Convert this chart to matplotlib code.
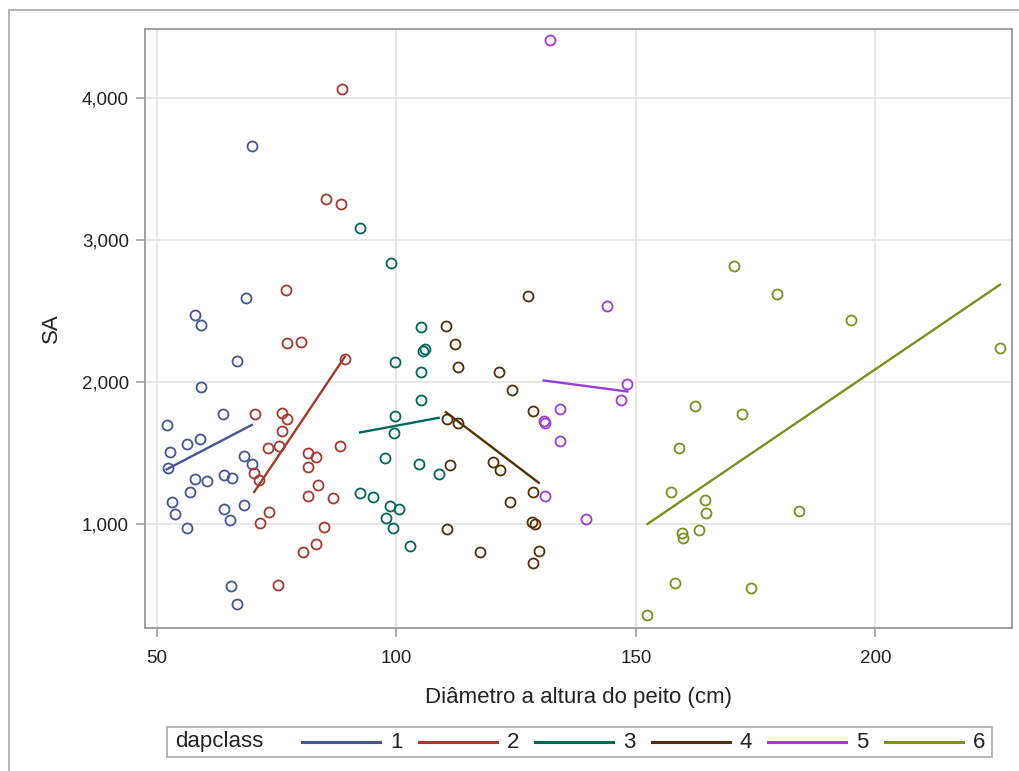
import matplotlib.pyplot as plt
from matplotlib.lines import Line2D
from matplotlib.patches import Rectangle
from matplotlib.ticker import FuncFormatter
import numpy as np

plt.rcParams["font.family"] = ["Liberation Sans", "DejaVu Sans"]

# valores, por classe de DAP
dap1 = [68.6, 58.0, 59.2, 66.7, 59.2, 63.8, 52.0, 59.0, 56.3, 52.7, 52.4, 68.2, 69.8, 58.0,
        60.5, 63.9, 65.6, 56.9, 53.1, 53.8, 64.0, 68.2, 65.2, 56.3, 65.4, 66.8, 69.8]
sa1 = [2587, 2469, 2398, 2148, 1967, 1773, 1696, 1595, 1560, 1508, 1391, 1480, 1420, 1318,
       1304, 1344, 1321, 1223, 1157, 1068, 1103, 1131, 1028, 970, 564, 438, 3663]

dap2 = [76.9, 77.1, 80.1, 89.2, 70.5, 76.0, 77.1, 76.2, 73.1, 75.5, 88.3, 81.5, 83.3, 81.6,
        70.3, 71.4, 83.6, 81.6, 86.8, 73.4, 71.6, 84.8, 83.3, 80.5, 75.3, 88.6, 85.3, 88.4]
sa2 = [2644, 2270, 2277, 2162, 1773, 1782, 1736, 1656, 1536, 1548, 1548, 1497, 1473, 1398,
       1356, 1309, 1274, 1197, 1185, 1087, 1005, 981, 859, 803, 569, 4059, 3286, 3254]

dap3 = [92.4, 98.8, 105.2, 105.6, 106.0, 99.7, 105.2, 105.2, 99.7, 99.5, 97.5, 104.7, 108.8,
        92.4, 95.0, 98.7, 100.6, 97.8, 99.2, 102.8]
sa3 = [3082, 2838, 2387, 2216, 2230, 2138, 2068, 1871, 1759, 1637, 1466, 1422, 1349,
       1216, 1192, 1126, 1103, 1040, 970, 848]

dap4 = [127.5, 110.3, 112.2, 112.9, 121.4, 124.1, 128.4, 110.6, 112.9, 111.2, 120.2, 121.6,
        128.6, 123.8, 128.2, 128.9, 110.6, 117.4, 129.7, 128.4]
sa4 = [2607, 2396, 2267, 2108, 2068, 1946, 1796, 1738, 1708, 1412, 1438, 1380,
       1225, 1155, 1016, 1000, 963, 805, 812, 728]

dap5 = [132.1, 144.0, 148.2, 146.8, 134.2, 130.7, 131.1, 134.1, 131.1, 139.6]
sa5 = [4403, 2535, 1985, 1871, 1806, 1722, 1712, 1581, 1197, 1035]

dap6 = [170.5, 179.4, 194.8, 226.0, 162.3, 172.2, 158.9, 157.3, 164.5, 164.7, 184.1, 159.6,
        159.9, 163.2, 158.2, 174.1, 152.4]
sa6 = [2815, 2616, 2434, 2235, 1831, 1773, 1536, 1227, 1171, 1075, 1091, 935,
       904, 960, 588, 552, 356]

classes = ["1", "2", "3", "4", "5", "6"]
# reta de regressao: SA no menor e no maior DAP de cada classe
fit_sa_start = [1384, 1225, 1644, 1787, 2010, 1000]
fit_sa_end = [1697, 2176, 1747, 1290, 1932, 2684]

colors = ["#445694", "#A23A2E", "#01665E", "#543005", "#9D3CDB", "#7F8E1F"]
GRID = "#e4e4e4"
FRAME = "#9a9a9a"

fig = plt.figure(figsize=(10.19, 7.71), dpi=100)
ax = fig.add_axes([145 / 1019, 1 - 628 / 771, 867 / 1019, 599 / 771])

groups = [(dap1, sa1), (dap2, sa2), (dap3, sa3), (dap4, sa4), (dap5, sa5), (dap6, sa6)]
for (x, y), c, y0, y1 in zip(groups, colors, fit_sa_start, fit_sa_end):
    ax.plot(x, y, "o", mfc="none", mec=c, ms=7.2, mew=1.3, zorder=3)
    ax.plot([min(x), max(x)], [y0, y1], color=c, lw=1.7, zorder=4)

ax.set_xlim(47.5, 228.5)
ax.set_ylim(268, 4483)
ax.set_xticks([50, 100, 150, 200])
ax.set_yticks([1000, 2000, 3000, 4000])
ax.yaxis.set_major_formatter(FuncFormatter(lambda v, p: f"{v:,.0f}"))
ax.grid(color=GRID, lw=1.2, zorder=0)
ax.set_axisbelow(True)
for s in ax.spines.values():
    s.set_color(FRAME)
    s.set_linewidth(1.3)
ax.tick_params(direction="out", length=6.5, width=1.1, color=FRAME,
               labelsize=13.5, labelcolor="#222222", pad=5)
ax.tick_params(axis="x", pad=9.5)
ax.set_xlabel("Diâmetro a altura do peito (cm)", fontsize=16, color="#222222", labelpad=14)
ax.set_ylabel("SA", fontsize=16, color="#222222", labelpad=14)

# moldura externa
fig.add_artist(Rectangle((9 / 1019, -0.1), 1.2, 1.1 - 10 / 771, transform=fig.transFigure,
                         fill=False, edgecolor="#a8a8a8", lw=1.2))

# legenda no rodape
W, H = 1019, 771
fig.add_artist(Rectangle((167 / W, 1 - 757 / H), 825 / W, 30 / H, transform=fig.transFigure,
                         fill=False, edgecolor="#a8a8a8", lw=1.2))
ly = 1 - 742 / H
fig.text(175 / W, ly, "dapclass", fontsize=16, color="#222222", va="center", ha="left")
for i, (lab, c) in enumerate(zip(classes, colors)):
    x0 = 302 + 116.5 * i
    fig.add_artist(Line2D([x0 / W, (x0 + 78) / W], [ly, ly], color=c, lw=2.2,
                          transform=fig.transFigure))
    fig.text((x0 + 88) / W, ly, lab, fontsize=16, color="#222222", va="center", ha="left")

fig.savefig("out.png", dpi=100)
